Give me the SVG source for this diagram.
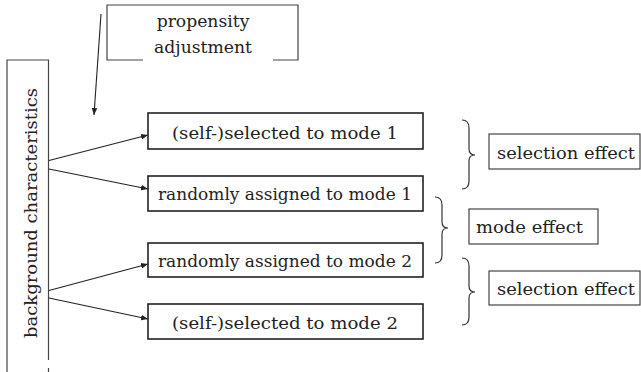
<svg xmlns="http://www.w3.org/2000/svg" width="641" height="372" viewBox="0 0 641 372">
<style>
.box{fill:#fff;stroke:#222;stroke-width:1.6}
.lbl{fill:#fff;stroke:#444;stroke-width:1.2}
.t{font-family:"DejaVu Serif","Liberation Serif",serif;font-size:17.2px;fill:#222;text-anchor:middle}
.c{stroke:#222;stroke-width:1.1;fill:none}
.br{stroke:#333;stroke-width:1.2;fill:none}
</style>
<defs>
<marker id="ah" viewBox="0 0 10 10" refX="10" refY="5" markerWidth="7" markerHeight="7" markerUnits="userSpaceOnUse" orient="auto">
<path d="M0,1 L10,5 L0,9 Z" fill="#222"/>
</marker>
</defs>
<rect width="641" height="372" fill="#fff"/>
<g id="propensity">
<path class="lbl" d="M143,60 H107 V5 H298 V60 H273" fill="none"/>
<text class="t" x="203" y="27">propensity</text>
<text class="t" x="203" y="53">adjustment</text>
</g>
<g id="background">
<path class="lbl" d="M7,380 V60 H48.5 V360 M48.5,368 V380" fill="none"/>
<text class="t" transform="translate(37,213) rotate(-90)" textLength="250" lengthAdjust="spacingAndGlyphs">background characteristics</text>
</g>
<g id="sel1">
<rect class="box" x="148" y="113" width="275" height="36"/>
<text class="t" x="285" y="139" textLength="226" lengthAdjust="spacingAndGlyphs">(self-)selected to mode 1</text>
</g>
<g id="rand1">
<rect class="box" x="148" y="176" width="275" height="35"/>
<text class="t" x="285" y="200" textLength="254" lengthAdjust="spacingAndGlyphs">randomly assigned to mode 1</text>
</g>
<g id="rand2">
<rect class="box" x="148" y="243" width="275" height="34"/>
<text class="t" x="285" y="267" textLength="254" lengthAdjust="spacingAndGlyphs">randomly assigned to mode 2</text>
</g>
<g id="sel2">
<rect class="box" x="148" y="304" width="275" height="35"/>
<text class="t" x="285" y="329" textLength="226" lengthAdjust="spacingAndGlyphs">(self-)selected to mode 2</text>
</g>
<g id="selEffect1">
<rect class="lbl" x="489" y="134" width="151" height="35"/>
<text class="t" x="566" y="159" textLength="138" lengthAdjust="spacingAndGlyphs">selection effect</text>
</g>
<g id="modeEffect">
<rect class="lbl" x="469" y="209" width="129" height="35"/>
<text class="t" x="529.5" y="233" textLength="107" lengthAdjust="spacingAndGlyphs">mode effect</text>
</g>
<g id="selEffect2">
<rect class="lbl" x="489" y="271" width="151" height="34"/>
<text class="t" x="566" y="295" textLength="138" lengthAdjust="spacingAndGlyphs">selection effect</text>
</g>
<g id="braces">
<path class="br" d="M462,120 Q469,120 469,128 V149 Q469,155 475,155 Q469,155 469,161 V181 Q469,189 462,189"/>
<path class="br" d="M435,197 Q442,197 442,205 V222 Q442,228 448,228 Q442,228 442,234 V255 Q442,263 435,263"/>
<path class="br" d="M462,258 Q469,258 469,266 V286 Q469,292 475,292 Q469,292 469,298 V317 Q469,325 462,325"/>
</g>
<g id="connectors">
<line class="c" x1="101" y1="14" x2="94" y2="115" marker-end="url(#ah)"/>
<line class="c" x1="49" y1="160.5" x2="148" y2="135" marker-end="url(#ah)"/>
<line class="c" x1="49" y1="169" x2="148" y2="189" marker-end="url(#ah)"/>
<line class="c" x1="49" y1="290.5" x2="148" y2="264" marker-end="url(#ah)"/>
<line class="c" x1="49" y1="298" x2="148" y2="319" marker-end="url(#ah)"/>
</g>
</svg>
